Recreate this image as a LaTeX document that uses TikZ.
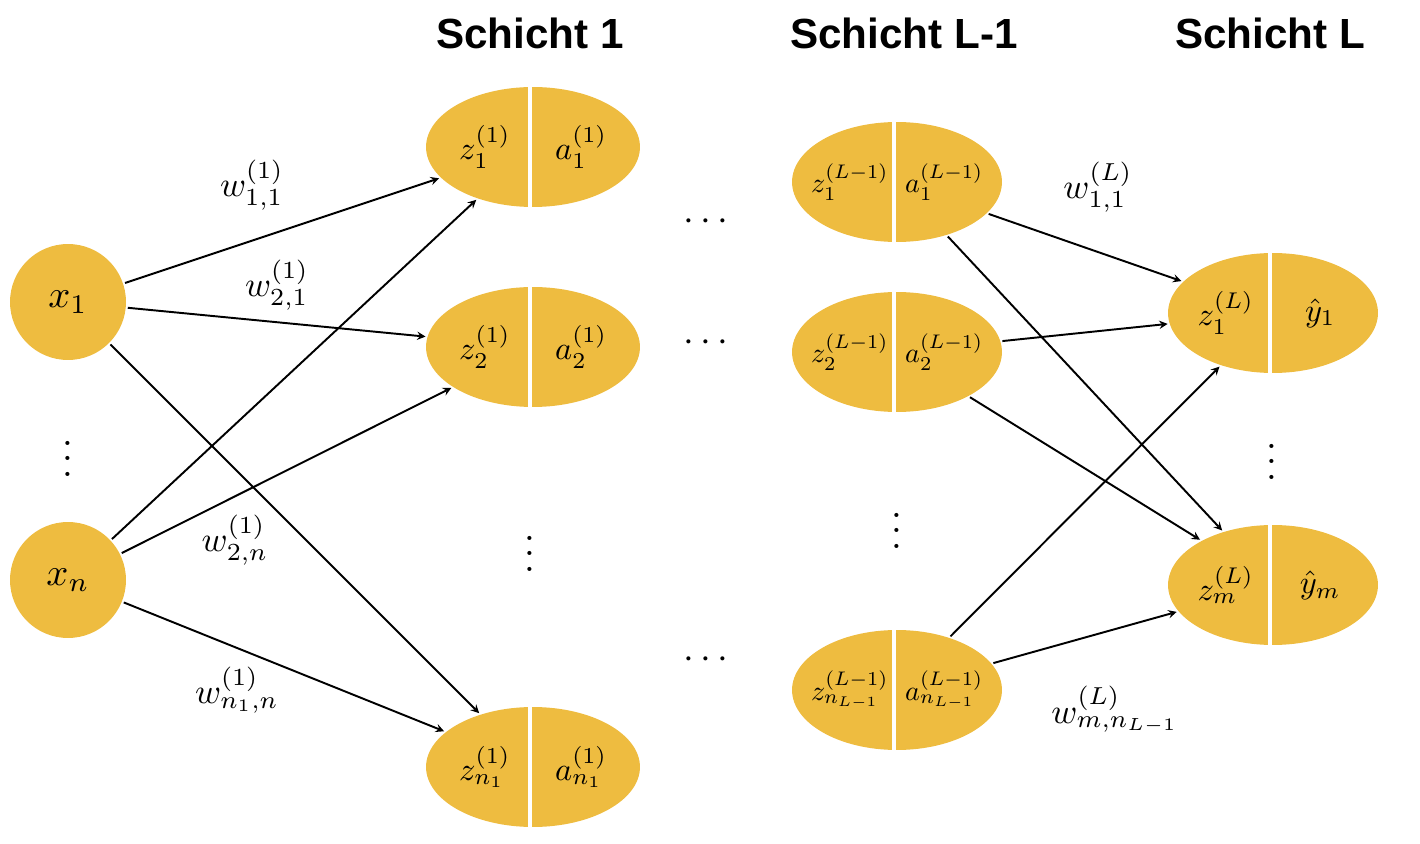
\documentclass[tikz,border=0pt]{standalone}
\usepackage{fontspec}
\newfontfamily\titlefont{Liberation Sans}
\usetikzlibrary{shapes.geometric}
\definecolor{gold}{RGB}{238,188,64}
\newcommand\mkneuron[7]{% name,x,y,rx,ztext,atext,labelstyle
  \node[neu,minimum width=#4*0.04cm] (#1) at (#2,#3) {};
  \draw[white,line width=2pt] (#2-3,#3-62) -- (#2-3,#3+62);
  \node[#7] (#1z) at (#2-#4*0.45,#3) {$#5$};
  \node[#7] (#1a) at (#2+#4*0.45,#3) {$#6$};
}
\begin{document}
\begin{tikzpicture}[x=0.02cm,y=-0.02cm,
  neu/.style={ellipse,fill=gold,inner sep=0pt,minimum height=2.4cm},
  inp/.style={circle,fill=gold,inner sep=0pt,minimum size=2.32cm},
  lbl/.style={inner sep=0pt,scale=1.85,transform shape},
  slbl/.style={inner sep=0pt,scale=1.6,transform shape},
  ilbl/.style={inner sep=0pt,scale=2.2,transform shape},
  wl/.style={inner sep=0pt,scale=2.0,transform shape},
  ttl/.style={font=\titlefont\bfseries\fontsize{24}{28}\selectfont},
  dots/.style={inner sep=0pt,scale=2.2,transform shape},
  arr/.style={->,line width=1.1pt,>=stealth,shorten >=1pt,shorten <=1pt}]
\useasboundingbox (0,0) rectangle (1420,844);
\node[ttl] (t1) at (530,33) {Schicht 1};
\node[ttl] (t2) at (904,33) {Schicht L-1};
\node[ttl] (t3) at (1270,33) {Schicht L};
\node[inp] (x1) at (68,302) {};
\node[inp] (xn) at (68,580) {};
\node[ilbl] (x1l) at (68,302) {$x_1$};
\node[ilbl] (xnl) at (68,580) {$x_n$};
\mkneuron{h1}{533}{147}{107}{z_1^{(1)}}{a_1^{(1)}}{lbl}
\mkneuron{h2}{533}{347}{107}{z_2^{(1)}}{a_2^{(1)}}{lbl}
\mkneuron{hn}{533}{767}{107}{z_{n_1}^{(1)}}{a_{n_1}^{(1)}}{lbl}
\mkneuron{g1}{897}{182}{105}{z_1^{(L-1)}}{a_1^{(L-1)}}{slbl}
\mkneuron{g2}{897}{352}{105}{z_2^{(L-1)}}{a_2^{(L-1)}}{slbl}
\mkneuron{gn}{897}{690}{105}{z_{n_{L-1}}^{(L-1)}}{a_{n_{L-1}}^{(L-1)}}{slbl}
\mkneuron{o1}{1273}{313}{105}{z_1^{(L)}}{\hat y_1}{lbl}
\mkneuron{om}{1273}{585}{105}{z_m^{(L)}}{\hat y_m}{lbl}
\node[dots] (d1) at (68,447) {$\vdots$};
\node[dots] (d2) at (530,542) {$\vdots$};
\node[dots] (d3) at (897,519) {$\vdots$};
\node[dots] (d4) at (1272,450) {$\vdots$};
\node[dots] (e1) at (706,222) {$\cdots$};
\node[dots] (e2) at (706,343) {$\cdots$};
\node[dots] (e3) at (706,660) {$\cdots$};
\draw[arr] (x1) -- (h1);
\draw[arr] (x1) -- (h2);
\draw[arr] (x1) -- (hn);
\draw[arr] (xn) -- (h1);
\draw[arr] (xn) -- (h2);
\draw[arr] (xn) -- (hn);
\draw[arr] (g1) -- (o1);
\draw[arr] (g1) -- (om);
\draw[arr] (g2) -- (o1);
\draw[arr] (g2) -- (om);
\draw[arr] (gn) -- (o1);
\draw[arr] (gn) -- (om);
\node[wl] (w1) at (252,185) {$w_{1,1}^{(1)}$};
\node[wl] (w2) at (277,285) {$w_{2,1}^{(1)}$};
\node[wl] (w3) at (235,540) {$w_{2,n}^{(1)}$};
\node[wl] (w4) at (237,690) {$w_{n_1,n}^{(1)}$};
\node[wl] (w5) at (1098,187) {$w_{1,1}^{(L)}$};
\node[wl] (w6) at (1115,710) {$w_{m,n_{L-1}}^{(L)}$};
\end{tikzpicture}
\end{document}
